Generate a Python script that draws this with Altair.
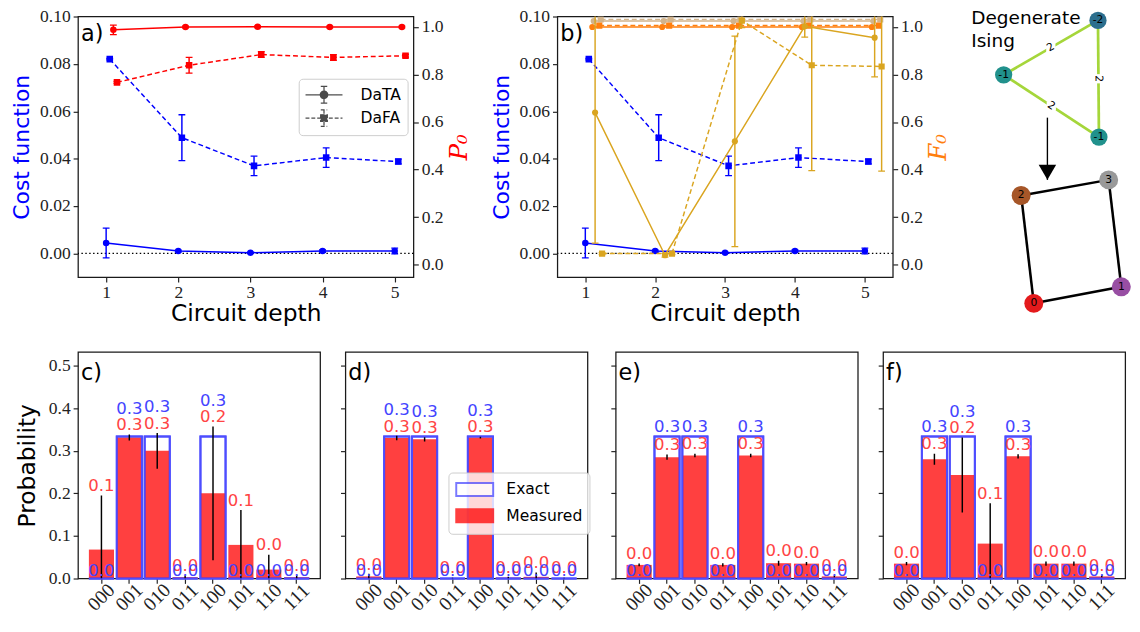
import math
import altair as alt
import pandas as pd

# ---------------- panels a) and b): values per circuit depth ----------------
depth = [1, 2, 3, 4, 5]
methods = ["DaTA", "DaFA"]

cost_data_ta = [0.0044, 0.0010, 0.0003, 0.0010, 0.0010]
cost_data_ta_err = [0.0063, 0.0004, 0.0003, 0.0005, 0.0012]
cost_dafa = [0.0821, 0.0489, 0.0370, 0.0405, 0.0388]
cost_dafa_err = [0.0003, 0.0097, 0.0041, 0.0041, 0.0010]

p0_data_ta = [0.988, 1.000, 1.001, 1.000, 1.000]
p0_data_ta_err = [0.020, 0.004, 0.004, 0.004, 0.004]
p0_dafa = [0.767, 0.839, 0.884, 0.872, 0.879]
p0_dafa_err = [0.004, 0.033, 0.012, 0.012, 0.006]

f0_orange_ta = [1.000, 1.000, 1.000, 1.000, 1.000]
f0_orange_fa = [1.006, 1.006, 1.006, 1.006, 1.006]
f0_tan_ta = [1.025, 1.025, 1.025, 1.025, 1.025]
f0_tan_fa = [1.032, 1.032, 1.032, 1.032, 1.032]
f0_gold_ta = [0.640, 0.040, 0.519, 1.003, 0.955]
f0_gold_ta_err = [0.549, 0.008, 0.443, 0.046, 0.165]
f0_gold_fa = [0.047, 0.047, 1.027, 0.839, 0.834]
f0_gold_fa_err = [0.004, 0.004, 0.030, 0.443, 0.440]

# ---------------- panels c) - f): probabilities per bitstring ----------------
states = ["000", "001", "010", "011", "100", "101", "110", "111"]
exact = [0.0, 1 / 3, 1 / 3, 0.0, 1 / 3, 0.0, 0.0, 0.0]
meas_c = [0.068, 0.331, 0.300, 0.003, 0.200, 0.079, 0.021, 0.003]
err_c = [0.127, 0.007, 0.042, 0.004, 0.157, 0.082, 0.035, 0.004]
meas_d = [0.005, 0.330, 0.327, 0.001, 0.331, 0.002, 0.004, 0.001]
err_d = [0.006, 0.005, 0.005, 0.001, 0.002, 0.002, 0.010, 0.001]
meas_e = [0.032, 0.285, 0.289, 0.032, 0.289, 0.036, 0.035, 0.005]
err_e = [0.003, 0.006, 0.004, 0.004, 0.004, 0.006, 0.004, 0.002]
meas_f = [0.035, 0.280, 0.243, 0.082, 0.287, 0.035, 0.035, 0.005]
err_f = [0.004, 0.013, 0.088, 0.095, 0.005, 0.005, 0.005, 0.002]

# ---------------- graph drawing (layout coordinates of the network) ----------------
node_ids = ["t0", "t1", "t2", "s0", "s1", "s2", "s3"]
node_text = ["-2", "-1", "-1", "0", "1", "2", "3"]
node_gx = [142, 45, 143, 76, 166, 63, 153]
node_gy = [4, 60, 124, 295, 278, 184, 168]
edge_from = ["t1", "t0", "t1", "s2", "s3", "s1", "s0"]
edge_to = ["t0", "t2", "t2", "s3", "s1", "s0", "s2"]
edge_w = ["2", "2", "2", "", "", "", ""]
arrow_gx = [90, 90]
arrow_gy = [104, 168]
graph_title_lines = ["Degenerate", "Ising"]
graph_title_gx = [11.7, 11.7]
graph_title_gy = [8, 31]

# ---------------- styles ----------------
SERIF = "Liberation Serif"
SANS = "DejaVu Sans"
BLUE = "#0000ff"
RED = "#ff0000"
ORANGE = "#ff7f0e"
TAN = "#d2b48c"
GOLD = "#daa520"
NODE_COLORS = ["#2c6f8e", "#21918c", "#21918c", "#e41a1c", "#984ea3", "#a65628", "#999999"]
ISING_EDGE = "#a5d63a"
BAR_BLUE = "#4d4dff"
TXT_BLUE = "#4444ff"
TXT_RED = "#ff4444"

TOP_W = 345
TOP_H = 268
COST_DOM = [-0.0100, 0.1001]
P_DOM = [-0.052, 1.044]
XA_DOM = [0.61, 5.26]
XB_DOM = [0.60, 5.40]
PROB_DOM = [0.0, 0.532]
GRAPH_SHIFT = 414  # graph origin sits this far right of panel b's plot origin

PATH_TA = ("M-2,0H2M0,-0.9V0.9M-0.35,-0.9H0.35M-0.35,0.9H0.35"
           "M0.4,0A0.4,0.4,0,1,1,-0.4,0A0.4,0.4,0,1,1,0.4,0Z")
PATH_FA = ("M-2,0H2M0,-0.9V0.9M-0.35,-0.9H0.35M-0.35,0.9H0.35"
           "M-0.36,-0.36H0.36V0.36H-0.36Z")
PATH_RECT = "M-2,-0.7H2V0.7H-2Z"


def x_enc(dom):
    return alt.X("x:Q", scale=alt.Scale(domain=dom, nice=False, zero=False),
                 axis=alt.Axis(values=depth, format="d", title="Circuit depth",
                               titleFontSize=24, titlePadding=1, labelPadding=2))


def y_cost(field):
    return alt.Y(f"{field}:Q", scale=alt.Scale(domain=COST_DOM, nice=False, zero=False),
                 axis=alt.Axis(orient="left", values=[0, 0.02, 0.04, 0.06, 0.08, 0.10],
                               format=".2f", title="Cost function", titleColor=BLUE,
                               titleFontSize=22.5, titlePadding=6, labelPadding=3))


def y_right_factory(title, color):
    def f(field):
        return alt.Y(f"{field}:Q", scale=alt.Scale(domain=P_DOM, nice=False, zero=False),
                     axis=alt.Axis(orient="right", values=[0, 0.2, 0.4, 0.6, 0.8, 1.0],
                                   format=".1f", title=title, titleColor=color,
                                   titleFont="DejaVu Serif", titleFontStyle="italic",
                                   titleFontSize=25, titleAngle=270, titleBaseline="top",
                                   titlePadding=4, labelPadding=3))
    return f


def series_layers(values, errs, offset, color, dashed, shape, ycall, xdom, msize=45):
    rows = {"x": [d + offset for d in depth], "v": values}
    if errs is not None:
        rows["lo"] = [v - e for v, e in zip(values, errs)]
        rows["hi"] = [v + e for v, e in zip(values, errs)]
    base = alt.Chart(pd.DataFrame(rows))
    xe = x_enc(xdom)
    line_kw = dict(color=color, strokeWidth=1.5, clip=True)
    if dashed:
        line_kw["strokeDash"] = [5, 3]
    out = [base.mark_line(**line_kw).encode(x=xe, y=ycall("v"))]
    if errs is not None:
        out.append(base.mark_rule(color=color, strokeWidth=1.5, clip=True)
                   .encode(x=xe, y=ycall("lo"), y2=alt.Y2("hi:Q")))
        for f in ("lo", "hi"):
            out.append(base.mark_rule(color=color, strokeWidth=1.3, clip=True,
                                      xOffset=-3.5, x2Offset=3.5)
                       .encode(x=xe, x2=alt.X2("x:Q"), y=ycall(f)))
    out.append(base.mark_point(shape=shape, filled=True, size=msize, color=color,
                               opacity=1, clip=True).encode(x=xe, y=ycall("v")))
    return out


def letter(txt, y):
    return alt.Chart(pd.DataFrame({"t": [txt]})).mark_text(
        align="left", baseline="alphabetic", font=SANS, fontSize=23, color="black"
    ).encode(text="t:N", x=alt.value(3), y=alt.value(y))


def zero_line():
    return alt.Chart(pd.DataFrame({"z": [0.0]})).mark_rule(
        color="black", strokeDash=[1.5, 2.5], strokeWidth=1.2).encode(y=y_cost("z"))


def cost_layers(xdom):
    return (series_layers(cost_data_ta, cost_data_ta_err, 0.0, BLUE, False, "circle", y_cost, xdom)
            + series_layers(cost_dafa, cost_dafa_err, 0.05, BLUE, True, "square", y_cost, xdom))


# ----- panel a
leg_a = dict(orient="none", legendX=227, legendY=64, title=None, labelFont=SANS,
             labelFontSize=16, labelOffset=27, symbolSize=361, symbolOffset=9.5,
             symbolStrokeWidth=1.3, padding=6, rowPadding=1,
             fillColor="rgba(255,255,255,0.8)", strokeColor="#cccccc", cornerRadius=4)
legend_layer = alt.Chart(pd.DataFrame({"method": methods, "x": [1.0, 1.0], "v": [0.0, 0.0]})
                         ).transform_filter("datum.x > 100").mark_point(
    filled=True, color="black", stroke="black", strokeWidth=1.3, size=361).encode(
    x=x_enc(XA_DOM), y=y_cost("v"),
    shape=alt.Shape("method:N", scale=alt.Scale(domain=methods, range=[PATH_TA, PATH_FA]),
                    legend=alt.Legend(**leg_a)),
    strokeDash=alt.StrokeDash("method:N", scale=alt.Scale(domain=methods, range=[[1, 0], [4, 2]]),
                              legend=alt.Legend(**leg_a)))

y_p0 = y_right_factory("P₀", RED)
left_a = alt.layer(zero_line(), *cost_layers(XA_DOM), legend_layer, letter("a)", 25))
right_a = alt.layer(
    *series_layers(p0_data_ta, p0_data_ta_err, 0.10, RED, False, "circle", y_p0, XA_DOM),
    *series_layers(p0_dafa, p0_dafa_err, 0.15, RED, True, "square", y_p0, XA_DOM))
panel_a = alt.layer(left_a, right_a).resolve_scale(y="independent").properties(width=TOP_W, height=TOP_H)

# ----- graph (drawn next to panel b, with scales of its own)
gpos = {n: (x, y) for n, x, y in zip(node_ids, node_gx, node_gy)}
nodes_df = pd.DataFrame({"node": node_ids, "label": node_text, "x": node_gx, "y": node_gy,
                         "grp": ["ising" if n.startswith("t") else "hw" for n in node_ids]})
erows = []
for a, b, w in zip(edge_from, edge_to, edge_w):
    (x1, y1), (x2, y2) = gpos[a], gpos[b]
    ang = math.degrees(math.atan2(y2 - y1, x2 - x1)) % 360
    erows.append({"x": x1, "y": y1, "x2": x2, "y2": y2, "mx": (x1 + x2) / 2, "my": (y1 + y2) / 2,
                  "w": w, "ang": ang, "grp": "ising" if a.startswith("t") else "hw"})
edges_df = pd.DataFrame(erows)


def gx(f):
    return alt.X(f"{f}:Q", scale=alt.Scale(domain=[-GRAPH_SHIFT, TOP_W - GRAPH_SHIFT], nice=False,
                                           zero=False), axis=None)


def gy(f):
    return alt.Y(f"{f}:Q", scale=alt.Scale(domain=[0, TOP_H], nice=False, zero=False, reverse=True),
                 axis=None)


ebase = alt.Chart(edges_df)
nbase = alt.Chart(nodes_df)
node_color = alt.Color("node:N", scale=alt.Scale(domain=node_ids, range=NODE_COLORS), legend=None)
arrow_df = pd.DataFrame({"x": [arrow_gx[0]], "y": [arrow_gy[0]], "x2": [arrow_gx[1]], "y2": [arrow_gy[1]]})
title_df = pd.DataFrame({"t": graph_title_lines, "x": graph_title_gx, "y": graph_title_gy})
graph = alt.layer(
    ebase.transform_filter("datum.grp == 'ising'").mark_rule(color=ISING_EDGE, strokeWidth=2.8)
    .encode(x=gx("x"), y=gy("y"), x2=alt.X2("x2:Q"), y2=alt.Y2("y2:Q")),
    ebase.transform_filter("datum.grp == 'hw'").mark_rule(color="black", strokeWidth=2.6)
    .encode(x=gx("x"), y=gy("y"), x2=alt.X2("x2:Q"), y2=alt.Y2("y2:Q")),
    ebase.transform_filter("datum.grp == 'ising'").mark_square(color="white", size=90, opacity=1)
    .encode(x=gx("mx"), y=gy("my")),
    ebase.transform_filter("datum.grp == 'ising'").mark_text(font=SANS, fontSize=11, color="black")
    .encode(x=gx("mx"), y=gy("my"), text="w:N", angle=alt.Angle("ang:Q", scale=None)),
    alt.Chart(arrow_df).mark_rule(color="black", strokeWidth=1.4)
    .encode(x=gx("x"), y=gy("y"), x2=alt.X2("x2:Q"), y2=alt.Y2("y2:Q")),
    alt.Chart(arrow_df).mark_point(shape="triangle-down", filled=True, color="black", size=324,
                                   opacity=1, yOffset=-7.8).encode(x=gx("x2"), y=gy("y2")),
    nbase.transform_filter("datum.grp == 'ising'").mark_circle(size=314, opacity=1)
    .encode(x=gx("x"), y=gy("y"), color=node_color),
    nbase.transform_filter("datum.grp == 'hw'").mark_circle(size=380, opacity=1)
    .encode(x=gx("x"), y=gy("y"), color=node_color),
    nbase.mark_text(font=SANS, fontSize=11, color="black").encode(x=gx("x"), y=gy("y"), text="label:N"),
    alt.Chart(title_df).mark_text(align="left", baseline="alphabetic", font=SANS, fontSize=19,
                                  color="black").encode(x=gx("x"), y=gy("y"), text="t:N"),
)

# ----- panel b
y_f0 = y_right_factory("F₀", ORANGE)
left_b = alt.layer(zero_line(), *cost_layers(XB_DOM), letter("b)", 25))
right_b = alt.layer(
    *series_layers(f0_tan_ta, None, 0.12, TAN, False, "circle", y_f0, XB_DOM, 40),
    *series_layers(f0_tan_fa, None, 0.22, TAN, True, "square", y_f0, XB_DOM, 40),
    *series_layers(f0_orange_fa, None, 0.20, ORANGE, True, "square", y_f0, XB_DOM, 40),
    *series_layers(f0_orange_ta, None, 0.10, ORANGE, False, "circle", y_f0, XB_DOM, 40),
    *series_layers(f0_gold_ta, f0_gold_ta_err, 0.14, GOLD, False, "circle", y_f0, XB_DOM, 40),
    *series_layers(f0_gold_fa, f0_gold_fa_err, 0.24, GOLD, True, "square", y_f0, XB_DOM, 40))
plot_b = alt.layer(left_b, right_b).resolve_scale(y="independent")
panel_b = alt.layer(plot_b, graph).resolve_scale(x="independent", y="independent").properties(
    width=TOP_W, height=TOP_H)


# ----- bar panels
def bar_panel(tag, meas, err, first, with_legend):
    df = pd.DataFrame({"state": states, "exact": exact, "meas": meas, "err": err})
    df["lo"] = (df["meas"] - df["err"]).clip(lower=0)
    df["hi"] = df["meas"] + df["err"]
    df["red_y"] = df["hi"] + 0.01
    df["blue_y"] = [max(e + 0.01, r + 0.038) if e > 0 else 0.005 for e, r in zip(df["exact"], df["red_y"])]
    df["red_t"] = [f"{v:.1f}" for v in df["meas"]]
    df["blue_t"] = [f"{v:.1f}" for v in df["exact"]]
    base = alt.Chart(df)
    xe = alt.X("state:N", sort=states,
               scale=alt.Scale(domain=states, paddingInner=0.1, paddingOuter=0.39),
               axis=alt.Axis(labelAngle=-45, labelAlign="center", labelBaseline="middle",
                             labelPadding=14, labelFontSize=20, title=None))
    ax_kw = dict(values=[0, 0.1, 0.2, 0.3, 0.4, 0.5], format=".1f", labels=first,
                 titleFontSize=24, titlePadding=9, labelPadding=3)
    ax_kw["title"] = "Probability" if first else None

    def ye(field):
        return alt.Y(f"{field}:Q", scale=alt.Scale(domain=PROB_DOM, nice=False, zero=False),
                     axis=alt.Axis(**ax_kw))

    layers = []
    if with_legend:
        leg = dict(orient="none", legendX=106, legendY=124, title=None, labelFont=SANS,
                   labelFontSize=16, labelOffset=22, symbolType=PATH_RECT, symbolSize=361,
                   symbolOffset=9.5, symbolStrokeWidth=2, padding=7, rowPadding=4,
                   fillColor="rgba(255,255,255,0.8)", strokeColor="#cccccc", cornerRadius=4)
        kinds = ["Exact", "Measured"]
        fill_enc = alt.Fill("kind:N", scale=alt.Scale(domain=kinds, range=["white", RED]),
                            legend=alt.Legend(**leg))
        stroke_enc = alt.Stroke("kind:N", scale=alt.Scale(domain=kinds, range=[BAR_BLUE, RED]),
                                legend=alt.Legend(**leg))
        layers.append(base.transform_calculate(kind="'Exact'").mark_bar(strokeWidth=2)
                      .encode(x=xe, y=ye("exact"), fill=fill_enc, stroke=stroke_enc))
        layers.append(base.transform_calculate(kind="'Measured'").mark_bar(opacity=0.75)
                      .encode(x=xe, y=ye("meas"), fill=fill_enc))
    else:
        layers.append(base.mark_bar(fill="white", stroke=BAR_BLUE, strokeWidth=2).encode(x=xe, y=ye("exact")))
        layers.append(base.mark_bar(fill=RED, opacity=0.75).encode(x=xe, y=ye("meas")))
    layers += [
        base.mark_bar(fillOpacity=0, stroke=BAR_BLUE, strokeWidth=2).encode(x=xe, y=ye("exact")),
        base.mark_rule(color="black", strokeWidth=1.5, clip=True).encode(x=xe, y=ye("lo"), y2=alt.Y2("hi:Q")),
        base.mark_text(font=SANS, fontSize=17, color=TXT_RED, baseline="alphabetic")
        .encode(x=xe, y=ye("red_y"), text="red_t:N"),
        base.mark_text(font=SANS, fontSize=17, color=TXT_BLUE, baseline="alphabetic")
        .encode(x=xe, y=ye("blue_y"), text="blue_t:N"),
        letter(tag, 29),
    ]
    return alt.layer(*layers).properties(width=249, height=233)


top_row = alt.hconcat(panel_a, panel_b, spacing=17).resolve_scale(
    shape="independent", strokeDash="independent", color="independent")
bottom_row = alt.hconcat(
    bar_panel("c)", meas_c, err_c, True, False),
    bar_panel("d)", meas_d, err_d, False, True),
    bar_panel("e)", meas_e, err_e, False, False),
    bar_panel("f)", meas_f, err_f, False, False),
    spacing=18).resolve_scale(fill="independent", stroke="independent")

chart = alt.vconcat(top_row, bottom_row, spacing=25).properties(
    padding={"left": 2, "top": -10, "right": 0, "bottom": 0}, background="white"
).configure_view(stroke="#1a1a1a", strokeWidth=1.3).configure_axis(
    labelFont=SERIF, labelFontSize=18, labelColor="#222222", tickColor="#222222",
    tickSize=5, tickWidth=1.2, domain=False, grid=False, titleFont=SANS,
    titleFontWeight="normal", titleColor="black"
)

chart.save("out.html", embed_options={"renderer": "svg", "actions": False})
